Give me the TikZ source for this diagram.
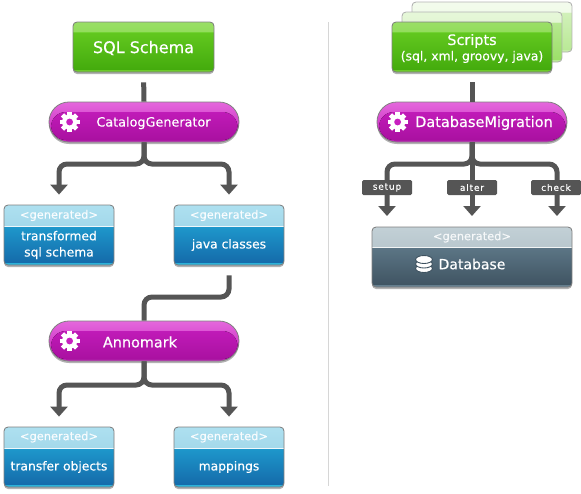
\documentclass[tikz,border=0pt]{standalone}
\usepackage{fontspec}
\setmainfont[FakeBold=0.4]{DejaVu Sans}
\newfontfamily\tagfont[LetterSpace=9,FakeBold=0.3]{DejaVu Sans}
\newfontfamily\genfont[FakeBold=0.1]{DejaVu Sans}
\usetikzlibrary{arrows.meta,shadows}
\definecolor{greenhi}{HTML}{9ADF66}
\definecolor{greenlo}{HTML}{72D233}
\definecolor{greena}{HTML}{62C81F}
\definecolor{greenb}{HTML}{42A90C}
\definecolor{greenedge}{HTML}{6CCB2A}
\definecolor{bluehi}{HTML}{AEE0F0}
\definecolor{bluelo}{HTML}{8FCBE0}
\definecolor{bluea}{HTML}{1E98CC}
\definecolor{blueb}{HTML}{1468A8}
\definecolor{blueedge}{HTML}{2AB2DA}
\definecolor{slatehi}{HTML}{C2D0D6}
\definecolor{slatelo}{HTML}{A6B6BE}
\definecolor{slatea}{HTML}{5C7686}
\definecolor{slateb}{HTML}{3E5260}
\definecolor{slateedge}{HTML}{647E8E}
\definecolor{pillhi}{HTML}{E468DC}
\definecolor{pilllo}{HTML}{C41CBC}
\definecolor{pilla}{HTML}{C81EC0}
\definecolor{pillb}{HTML}{A8109F}
\definecolor{wire}{HTML}{555555}
% band on top, white rule below it, main gradient, thin strip at the bottom
\newcommand{\glossband}[7]{%
    \fill[top color=#1,bottom color=#2,sharp corners]
        (path picture bounding box.north west) rectangle
        ([yshift=-#7pt]path picture bounding box.north east);
    \fill[top color=#3,bottom color=#4,sharp corners]
        ([yshift=-#7pt]path picture bounding box.north west) rectangle
        (path picture bounding box.south east);
    \fill[#5,sharp corners]
        ([yshift=2pt]path picture bounding box.south west) rectangle
        (path picture bounding box.south east);
    \draw[#6,line width=1pt,sharp corners]
        ([yshift=-#7pt]path picture bounding box.north west) --
        ([yshift=-#7pt]path picture bounding box.north east);
}
\newcommand{\gearicon}[1]{%
    \begin{scope}[shift={([xshift=21pt]#1.west)}]
    \foreach \a in {0,45,...,315}
        \draw[white,line width=4.6pt] (0,0) -- (\a:10);
    \fill[white] (0,0) circle (7.6);
    \fill[pilla] (0,0) circle (3.4);
    \end{scope}
}
\begin{document}
\begin{tikzpicture}[x=1pt,y=-1pt]
    \tikzstyle{boxbase} = [rectangle,draw=black!50,line width=.8pt,rounded corners=4pt,
                           inner sep=0pt,text=white,align=center,
                           drop shadow={shadow xshift=0pt,shadow yshift=-2pt,opacity=.3,fill=black}]
    \tikzstyle{greenbox} = [boxbase,minimum width=141pt,minimum height=50pt,
                            path picture={\glossband{greenhi}{greenlo}{greena}{greenb}{greenedge}{greenlo}{10}}]
    \tikzstyle{stackbox} = [rectangle,draw=black!30,line width=.8pt,rounded corners=4pt,
                            minimum width=160pt,minimum height=50pt]
    \tikzstyle{genbox} = [boxbase,minimum width=110pt,minimum height=60pt,
                          path picture={\glossband{bluehi}{bluelo}{bluea}{blueb}{blueedge}{white!85!bluelo}{21}}]
    \tikzstyle{dbbox} = [boxbase,minimum width=200pt,minimum height=60pt,
                         path picture={\glossband{slatehi}{slatelo}{slatea}{slateb}{slateedge}{white!85!slatelo}{20}}]
    \tikzstyle{pill} = [rectangle,draw=black!50,line width=.8pt,rounded corners=19.9pt,
                        minimum width=190pt,minimum height=40pt,inner sep=0pt,
                        top color=pillhi,bottom color=pilllo,
                        drop shadow={shadow xshift=0pt,shadow yshift=-2pt,opacity=.3,fill=black},
                        path picture={\fill[top color=pilla,bottom color=pillb,rounded corners=15pt]
                            ([xshift=2pt,yshift=-10pt]path picture bounding box.north west) rectangle
                            ([xshift=-1.5pt,yshift=2pt]path picture bounding box.south east);}]
    \tikzstyle{pilltext} = [text=white,inner sep=0pt,font=\fontsize{12.8}{15}\selectfont]
    \tikzstyle{gentag} = [text=white!92!bluehi,inner sep=0pt,font=\genfont\fontsize{11.4}{13}\selectfont]
    \tikzstyle{gentext} = [text=white,inner sep=0pt,align=center,font=\fontsize{12.3}{16.2}\selectfont]
    \tikzstyle{conn} = [draw=wire,line width=5pt,rounded corners=8pt]
    \tikzstyle{connarrow} = [conn,-{Triangle[width=17pt,length=10pt]}]
    \tikzstyle{edgetag} = [rectangle,fill=wire,rounded corners=1.5pt,text=white,inner sep=0pt,
                           minimum width=50pt,minimum height=15pt,font=\tagfont\fontsize{9}{10}\selectfont]

    % divider
    \coordinate (dividertop) at (328,22);
    \coordinate (dividerbot) at (328,486);
    \draw[black!16,line width=1pt] (dividertop) -- (dividerbot);

    % left column
    \node[greenbox] (schema) at (143.5,47) {};
    \node[text=white,inner sep=0pt,font=\fontsize{16}{18}\selectfont] (schematext) at (143.5,48) {SQL Schema};
    \node[pill] (catalog) at (144,122) {};
    \gearicon{catalog}
    \node[pilltext] (catalogtext) at (153.5,123) {CatalogGenerator};
    \node[genbox] (sqlbox) at (59,235) {};
    \node[gentag] (sqltag) at (59,215.5) {<generated>};
    \node[gentext] (sqltext) at (59,245) {transformed\\sql schema};
    \node[genbox] (javabox) at (229,235) {};
    \node[gentag] (javatag) at (229,215.5) {<generated>};
    \node[gentext] (javatext) at (229,245) {java classes};
    \node[pill] (annomark) at (144,341) {};
    \gearicon{annomark}
    \node[pilltext,font=\fontsize{14.4}{17}\selectfont] (annomarktext) at (140,342) {Annomark};
    \node[genbox] (transferbox) at (59,457) {};
    \node[gentag] (transfertag) at (59,437) {<generated>};
    \node[gentext] (transfertext) at (59,467) {transfer objects};
    \node[genbox] (mappingbox) at (229,457) {};
    \node[gentag] (mappingtag) at (229,437) {<generated>};
    \node[gentext] (mappingtext) at (229,467) {mappings};

    \draw[conn,shorten <=10pt] (schema.south) -- (catalog.north);
    \draw[connarrow,shorten >=10pt] (catalog.south) -- (144,164) -| (sqlbox.north);
    \draw[connarrow,shorten >=10pt] (catalog.south) -- (144,164) -| (javabox.north);
    \draw[conn,shorten <=10pt] (javabox.south) -- (229,297) -| (annomark.north);
    \draw[connarrow,shorten >=10pt] (annomark.south) -- (144,385) -| (transferbox.north);
    \draw[connarrow,shorten >=10pt] (annomark.south) -- (144,385) -| (mappingbox.north);

    % right column
    \node[stackbox,path picture={\glossband{white!88!greenhi}{white!78!greenhi}{white!55!greenhi}{white!30!greenhi}{white!45!greenhi}{white!78!greenhi}{10}}]
        (scriptsback) at (492,27) {};
    \node[stackbox,path picture={\glossband{white!75!greenhi}{white!60!greenhi}{white!28!greenhi}{greenhi}{white!30!greenhi}{white!60!greenhi}{10}}]
        (scriptsmid) at (482,37) {};
    \node[greenbox,minimum width=160pt] (scripts) at (472,47) {};
    \node[text=white,inner sep=0pt,align=center] (scriptstext) at (472,48.5)
        {{\fontsize{14.4}{16}\selectfont Scripts}\\[2pt]{\fontsize{12.4}{14}\selectfont (sql, xml, groovy, java)}};
    \node[pill] (migration) at (472,122) {};
    \gearicon{migration}
    \node[pilltext,font=\fontsize{14.5}{17}\selectfont] (migrationtext) at (484,123) {DatabaseMigration};
    \node[dbbox] (database) at (472,257) {};
    \node[gentag,text=white!85!slatehi] (dbtag) at (472,237) {<generated>};
    \node[text=white,inner sep=0pt,font=\fontsize{14}{17}\selectfont] (dbtext) at (472,264) {Database};
    \foreach \y in {268.5,264,259.5}
        \filldraw[fill=white,draw=slateb,line width=.9pt] (424,\y) ellipse (8.4 and 4);

    \coordinate (setupend) at (387,216);
    \coordinate (alterend) at (472,216);
    \coordinate (checkend) at (557,216);
    \draw[conn,shorten <=10pt] (scripts.south) -- (migration.north);
    \draw[connarrow] (migration.south) -- (472,164) -| (setupend);
    \draw[connarrow] (migration.south) -- (alterend);
    \draw[connarrow] (migration.south) -- (472,164) -| (checkend);
    \node[edgetag] (setuptag) at (387,187.5) {setup};
    \node[edgetag] (altertag) at (472,187.5) {alter};
    \node[edgetag] (checktag) at (556,187.5) {check};

    \useasboundingbox (0,0) rectangle (581,493);
\end{tikzpicture}
\end{document}
